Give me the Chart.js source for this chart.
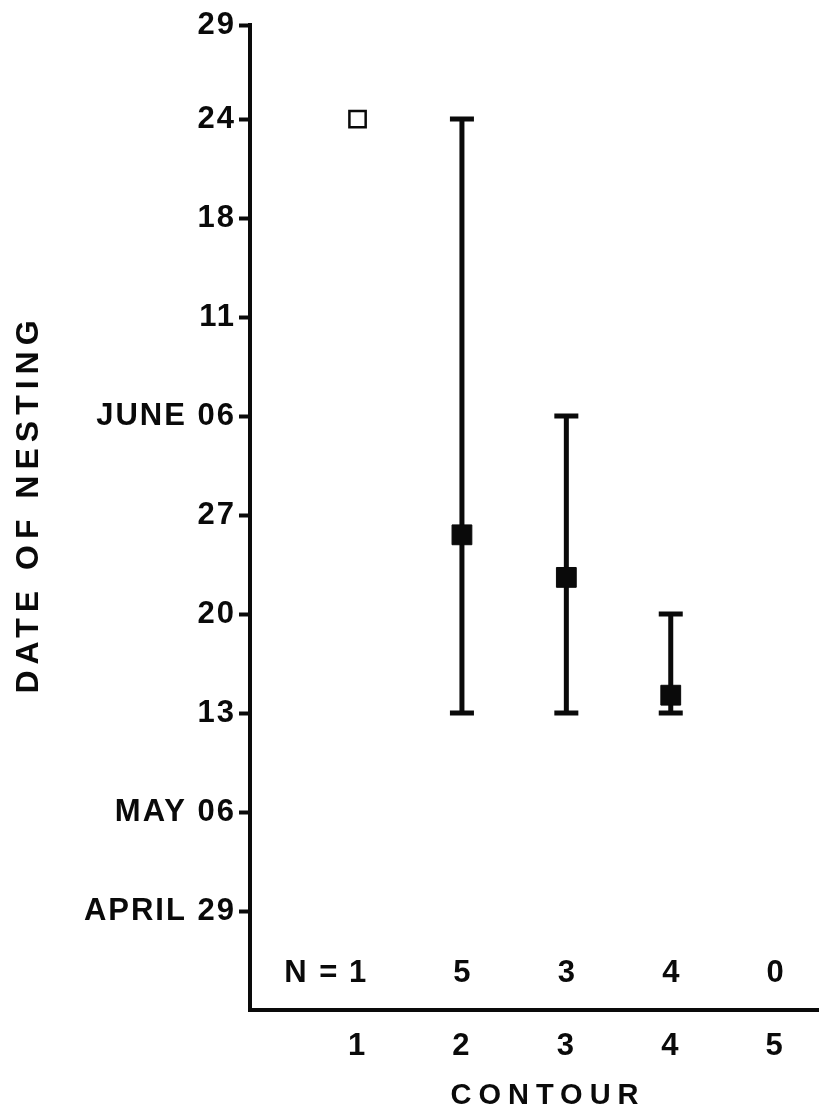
<!DOCTYPE html>
<html>
<head>
<meta charset="utf-8">
<script src="https://cdn.jsdelivr.net/npm/chart.js@4.4.1/dist/chart.umd.min.js"></script>
<style>
  html, body { margin: 0; padding: 0; background: #fff; overflow: hidden; }
  #wrap { width: 819px; height: 1118px; }
  canvas { display: block; }
</style>
</head>
<body>
<div id="wrap"><canvas id="chart" width="819" height="1118"></canvas></div>
<script>
/* ================= DATA ================= */
const contours = [1, 2, 3, 4, 5];
const nCounts = ["1", "5", "3", "4", "0"];
// the date axis is ordinal: 0 = April 29, 1 = May 06 ... 8 = June 24, top = June 29
const dateTicks = [0, 1, 2, 3, 4, 5, 6, 7, 8, 8.95];
const dateLabels = ["APRIL 29", "MAY 06", "13", "20", "27", "JUNE 06", "11", "18", "24", "29"];
const meanDate = [8, 3.8, 3.37, 2.18, null];
const lowDate = [null, 2, 2, 2, null];
const highDate = [null, 8, 5, 3, null];
const openMarker = [true, false, false, false, false];

const FONT = "'Liberation Sans', Arial, Helvetica, sans-serif";
const INK = "#0a0a0a";

/* ================= PLUGINS ================= */
// wider lettering, like the stencil text of the original
const spacing = {
  id: "spacing",
  beforeDraw(chart) { chart.ctx.letterSpacing = "2px"; },
  afterDatasetsDraw(chart) { chart.ctx.letterSpacing = "0px"; }
};

const errorBars = {
  id: "errorBars",
  beforeDatasetsDraw(chart) {
    const { ctx, scales: { x, y } } = chart;
    ctx.save();
    ctx.strokeStyle = INK;
    ctx.lineWidth = 5;
    contours.forEach((c, i) => {
      if (lowDate[i] == null) return;
      const px = x.getPixelForValue(c);
      const top = y.getPixelForValue(highDate[i]);
      const bot = y.getPixelForValue(lowDate[i]);
      ctx.beginPath();
      ctx.moveTo(px, top);
      ctx.lineTo(px, bot);
      ctx.moveTo(px - 12, top);
      ctx.lineTo(px + 12, top);
      ctx.moveTo(px - 12, bot);
      ctx.lineTo(px + 12, bot);
      ctx.stroke();
    });
    ctx.restore();
  }
};

const annotations = {
  id: "annotations",
  afterDraw(chart) {
    const { ctx, scales: { x, y } } = chart;
    ctx.save();
    ctx.fillStyle = INK;

    /* N row */
    ctx.font = `bold 31px ${FONT}`;
    ctx.letterSpacing = "2px";
    ctx.textBaseline = "middle";
    const rowY = y.getPixelForValue(-0.63);
    nCounts.forEach((n, i) => {
      const px = x.getPixelForValue(contours[i]);
      ctx.textAlign = "center";
      ctx.fillText(n, px + 1, rowY);
      if (i === 0) {
        ctx.textAlign = "right";
        ctx.fillText("N = ", px - ctx.measureText(n).width / 2 + 2, rowY);
      }
    });

    /* axis titles */
    ctx.textAlign = "center";
    ctx.font = `bold 29px ${FONT}`;
    ctx.letterSpacing = "7px";
    ctx.fillText("CONTOUR", 548, 1096);

    ctx.translate(29, 507);
    ctx.rotate(-Math.PI / 2);
    ctx.font = `bold 32px ${FONT}`;
    ctx.letterSpacing = "6px";
    ctx.fillText("DATE OF NESTING", 3, 0);
    ctx.restore();
  }
};

/* ================= CHART ================= */
new Chart(document.getElementById("chart"), {
  type: "scatter",
  data: {
    datasets: [{
      data: contours
        .map((c, i) => ({ x: c, y: meanDate[i] }))
        .filter(p => p.y != null),
      pointStyle: "rect",
      pointRadius: ctx => openMarker[ctx.dataIndex] ? 11.5 : 14,
      pointBorderWidth: ctx => openMarker[ctx.dataIndex] ? 2.5 : 1,
      pointBackgroundColor: ctx => openMarker[ctx.dataIndex] ? "#fff" : INK,
      pointBorderColor: INK
    }]
  },
  options: {
    responsive: false,
    animation: false,
    devicePixelRatio: 1,
    layout: { autoPadding: false, padding: { top: 25, right: 0, left: 0, bottom: 0 } },
    plugins: { legend: { display: false }, tooltip: { enabled: false } },
    scales: {
      x: {
        type: "linear",
        min: -0.03,
        max: 5.42,
        afterBuildTicks: s => { s.ticks = contours.map(v => ({ value: v })); },
        afterFit: s => { s.height = 108; s.paddingLeft = 0; s.paddingRight = 0; },
        grid: { display: false },
        border: { display: true, color: INK, width: 4 },
        ticks: {
          autoSkip: false,
          padding: 10,
          color: INK,
          font: { family: FONT, size: 31, weight: "bold" },
          callback: v => String(v)
        }
      },
      y: {
        type: "linear",
        min: -1,
        max: 8.95,
        afterBuildTicks: s => { s.ticks = dateTicks.map(v => ({ value: v })); },
        afterFit: s => { s.width = 250; },
        grid: {
          drawOnChartArea: false,
          drawTicks: true,
          tickLength: 11,
          tickWidth: 4,
          tickColor: INK,
          color: INK
        },
        border: { display: true, color: INK, width: 4 },
        ticks: {
          autoSkip: false,
          padding: 3,
          color: INK,
          font: { family: FONT, size: 31, weight: "bold" },
          callback: v => dateLabels[dateTicks.indexOf(v)]
        }
      }
    }
  },
  plugins: [spacing, errorBars, annotations]
});
</script>
</body>
</html>
